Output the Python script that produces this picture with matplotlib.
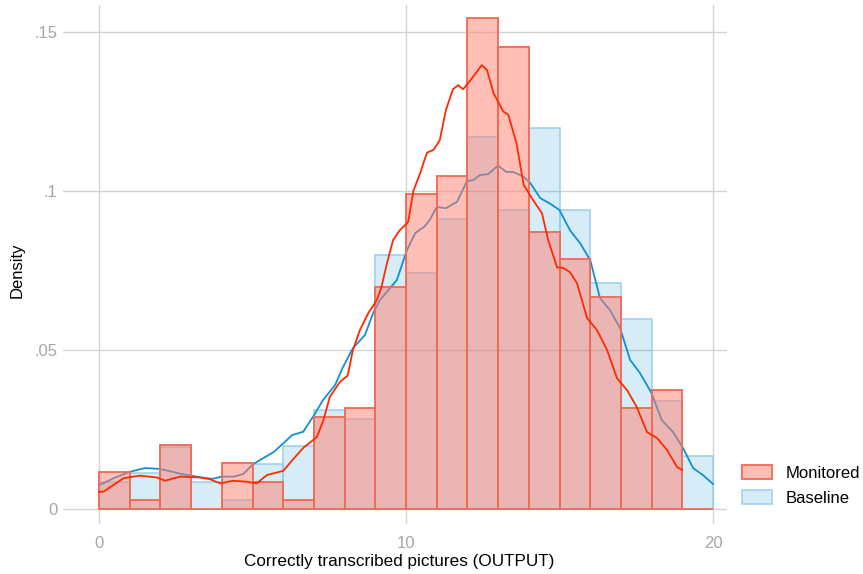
import numpy as np
import matplotlib
matplotlib.use("Agg")
import matplotlib.pyplot as plt
from matplotlib.patches import Patch

plt.rcParams['font.family'] = ['Liberation Sans', 'DejaVu Sans']

# Histogram densities, bins of width 1 starting at 0
bin_left = np.arange(0, 20)
monitored = [0.0116, 0.0028, 0.0200, 0.0, 0.0145, 0.0085, 0.0028, 0.0290, 0.0318, 0.0698,
             0.0990, 0.1047, 0.1544, 0.1454, 0.0872, 0.0786, 0.0668, 0.0318, 0.0374, 0.0]
baseline = [0.0085, 0.0113, 0.0196, 0.0085, 0.0028, 0.0142, 0.0198, 0.0310, 0.0283, 0.0799,
            0.0742, 0.0912, 0.1170, 0.0940, 0.1198, 0.0940, 0.0712, 0.0597, 0.0340, 0.0168]

# Kernel density curves
kde_base_x = [0.0, 0.5, 1.0, 1.5, 2.0, 2.7, 3.3, 3.7, 4.0, 4.4, 4.7, 5.0, 5.7, 6.3, 6.65,
              6.97, 7.3, 7.69, 7.95, 8.27, 8.66, 8.93, 9.15, 9.48, 9.7, 10.03, 10.3, 10.6,
              10.78, 11.0, 11.3, 11.66, 11.98, 12.2, 12.4, 12.67, 13.0, 13.27, 13.49, 13.83,
              14.05, 14.37, 14.7, 15.0, 15.34, 15.67, 16.0, 16.32, 16.64, 16.97, 17.3, 17.62,
              18.0, 18.33, 18.7, 19.03, 19.35, 19.67, 20.0]
kde_base_y = [0.0075, 0.0098, 0.0117, 0.0129, 0.0126, 0.0110, 0.0100, 0.0095, 0.0102, 0.0102,
              0.0110, 0.0140, 0.0180, 0.0233, 0.0243, 0.0290, 0.0343, 0.0390, 0.0447, 0.0506,
              0.0547, 0.0616, 0.0657, 0.0695, 0.0720, 0.0814, 0.0868, 0.0888, 0.0910, 0.0950,
              0.0946, 0.0966, 0.1030, 0.1035, 0.1050, 0.1053, 0.1080, 0.1060, 0.1060, 0.1045,
              0.1025, 0.0978, 0.0960, 0.0940, 0.0877, 0.0836, 0.0783, 0.0663, 0.0626, 0.0570,
              0.0469, 0.0428, 0.0364, 0.0280, 0.0242, 0.0191, 0.0129, 0.0107, 0.0079]

kde_mon_x = [0.0, 0.15, 0.8, 1.33, 1.9, 2.15, 2.64, 3.3, 3.6, 3.95, 4.37, 4.8, 5.14, 5.47,
             6.0, 6.3, 6.65, 7.1, 7.31, 7.52, 7.85, 8.1, 8.27, 8.5, 8.77, 9.05, 9.2, 9.38,
             9.58, 9.8, 10.07, 10.24, 10.46, 10.68, 10.9, 11.1, 11.3, 11.53, 11.7, 11.86,
             12.08, 12.47, 12.64, 12.85, 13.17, 13.33, 13.6, 13.83, 14.15, 14.43, 14.63,
             14.92, 15.13, 15.34, 15.57, 15.9, 16.22, 16.55, 16.87, 17.2, 17.52, 17.85,
             18.18, 18.5, 18.83, 19.0]
kde_mon_y = [0.0054, 0.0055, 0.0097, 0.0105, 0.0099, 0.0089, 0.0102, 0.0099, 0.0094, 0.0081,
             0.0089, 0.0086, 0.0081, 0.0107, 0.0120, 0.0154, 0.0192, 0.0227, 0.0280, 0.0353,
             0.0400, 0.0420, 0.0500, 0.0563, 0.0616, 0.0657, 0.0698, 0.0773, 0.0846, 0.0877,
             0.0903, 0.1000, 0.1056, 0.1120, 0.1130, 0.1160, 0.1255, 0.1320, 0.1333, 0.1320,
             0.1346, 0.1396, 0.1380, 0.1308, 0.1250, 0.1240, 0.1150, 0.1020, 0.0970, 0.0930,
             0.0846, 0.0760, 0.0758, 0.0745, 0.0710, 0.0600, 0.0563, 0.0500, 0.0412, 0.0374,
             0.0320, 0.0242, 0.0223, 0.0186, 0.0132, 0.0123]

xticks = [0, 10, 20]
yticks = [0, 0.05, 0.1, 0.15]
ytick_labels = ["0", ".05", ".1", ".15"]

red_face = (1.0, 0.50, 0.43, 0.50)
red_edge = (0.94, 0.42, 0.34, 0.95)
blue_face = (0.0, 0.55, 0.82, 0.16)
blue_edge = (0.58, 0.80, 0.93, 0.85)
red_line = "#ff2a00"
blue_line = "#138fd3"

fig = plt.figure(figsize=(8.63, 5.74), dpi=100)
ax = fig.add_axes([63 / 863, 50 / 574, 664 / 863, 519 / 574])

ax.bar(bin_left, baseline, width=1, align='edge', facecolor=blue_face,
       edgecolor=blue_edge, linewidth=1.2, zorder=2)
ax.plot(kde_base_x, kde_base_y, color=blue_line, lw=1.3, zorder=3)
ax.bar(bin_left, monitored, width=1, align='edge', facecolor=red_face,
       edgecolor=red_edge, linewidth=1.4, zorder=4)
ax.plot(kde_mon_x, kde_mon_y, color=red_line, lw=1.3, zorder=5)

ax.set_xlim(-1.173, 20.456)
ax.set_ylim(-0.0047, 0.1585)
ax.set_xticks(xticks)
ax.set_yticks(yticks)
ax.set_yticklabels(ytick_labels)
ax.tick_params(length=0, labelsize=12, labelcolor="#a6a6a6")
ax.tick_params(axis='x', pad=9)
ax.tick_params(axis='y', pad=4)
ax.grid(True, color="#d3d3d3", lw=1.0, zorder=0)
ax.set_axisbelow(True)
for s in ax.spines.values():
    s.set_visible(False)

ax.set_xlabel("Correctly transcribed pictures (OUTPUT)", fontsize=12.3)
ax.xaxis.set_label_coords(0.506, -0.073, transform=ax.transAxes)
ax.xaxis.label.set_va('center')
fig.text(17 / 863, 1 - 270 / 574, "Density", rotation=90, fontsize=12,
         ha='center', va='center')

handles = [Patch(facecolor=red_face, edgecolor=red_edge, lw=1.4, label="Monitored"),
           Patch(facecolor=blue_face, edgecolor=blue_edge, lw=1.2, label="Baseline")]
fig.legend(handles=handles, loc='upper left', bbox_to_anchor=(742 / 863, 1 - 465 / 574),
           frameon=False, fontsize=12, handlelength=1.8, handleheight=0.9,
           handletextpad=0.8, labelspacing=0.57, borderpad=0, borderaxespad=0)

fig.savefig("out.png", dpi=100)
